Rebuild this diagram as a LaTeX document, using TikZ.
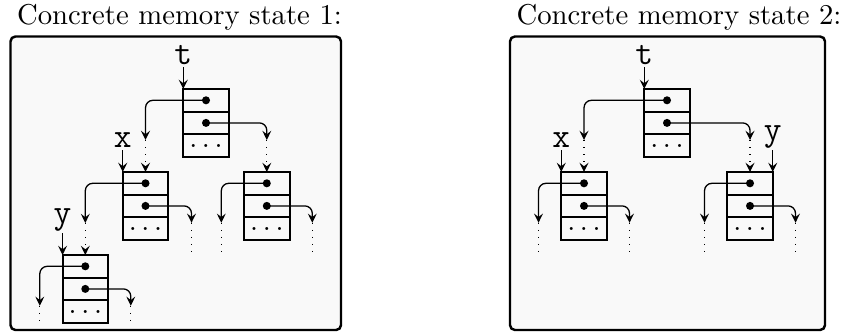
\documentclass[tikz,border=0pt]{standalone}
\usetikzlibrary{arrows.meta,calc}
\newcommand{\membox}[3]{%
  \node[cell] (#1a) at (#2,#3+11.3) {};
  \node[cell] (#1b) at (#2,#3+33.9) {};
  \node[cell] (#1c) at (#2,#3+56.5) {$\ldots$};
  \fill (#1a.center) circle (1.4pt);
  \fill (#1b.center) circle (1.4pt);
}
\begin{document}
\begin{tikzpicture}[x=0.3484pt, y=-0.3484pt,
  frame/.style={draw, line width=0.85pt, rounded corners=1.7pt, fill=black!2.5},
  cell/.style={draw, line width=0.7pt, minimum width=15.85pt, minimum height=7.87pt, inner sep=0pt, outer sep=0pt},
  tip/.style={-{Stealth[length=3.2pt,width=3.1pt,inset=1.2pt]}},
  ptr/.style={line width=0.45pt, tip, rounded corners=2.6pt},
  dotptr/.style={line width=0.45pt, dotted, tip},
  dotfree/.style={line width=0.45pt, dotted},
  lbl/.style={font=\fontsize{12}{14}\selectfont\ttfamily, inner sep=0.5pt, anchor=south},
  title/.style={anchor=base, inner sep=0pt}]
\useasboundingbox (0,0) rectangle (844,334);

% titles
\node[title] (title1) at (179.5,25) {Concrete memory state 1:};
\node[title] (title2) at (679,25) {Concrete memory state 2:};

% frames
\draw[frame] (10.5,36.5) rectangle (341,330);
\draw[frame] (510,36.5) rectangle (825,330);

% ---------------- state 1 ----------------
\membox{A}{206}{89}
\membox{B}{145.5}{172}
\membox{C}{266.8}{172}
\membox{D}{85.3}{255}

\node[lbl] (tA) at ($(Aa.north west)+(0,-22)$) {t};
\draw[ptr] (tA.south) -- (Aa.north west);
\node[lbl] (xB) at ($(Ba.north west)+(0,-22)$) {x};
\draw[ptr] (xB.south) -- (Ba.north west);
\node[lbl] (yD) at ($(Da.north west)+(0,-22)$) {y};
\draw[ptr] (yD.south) -- (Da.north west);

% A pointers
\draw[ptr] (Aa.center) -| ($(Ba.north)+(0,-32)$) coordinate (A1);
\draw[dotptr] (A1) -- (Ba.north);
\draw[ptr] (Ab.center) -| ($(Ca.north)+(0,-32)$) coordinate (A2);
\draw[dotptr] (A2) -- (Ca.north);
% B pointers
\draw[ptr] (Ba.center) -| ($(Da.north)+(0,-32)$) coordinate (B1);
\draw[dotptr] (B1) -- (Da.north);
\draw[ptr] (Bb.center) -| ($(Bc.south)+(46,-17)$) coordinate (B2);
\draw[dotfree] (B2) -- ++(0,29);
% C pointers
\draw[ptr] (Ca.center) -| ($(Cc.south)+(-45.5,-17)$) coordinate (C1);
\draw[dotfree] (C1) -- ++(0,29);
\draw[ptr] (Cb.center) -| ($(Cc.south)+(45.5,-17)$) coordinate (C2);
\draw[dotfree] (C2) -- ++(0,29);
% D pointers
\draw[ptr] (Da.center) -| ($(Dc.south)+(-45.5,-17)$) coordinate (D1);
\draw[dotfree] (D1) -- ++(0,20);
\draw[ptr] (Db.center) -| ($(Dc.south)+(45.5,-17)$) coordinate (D2);
\draw[dotfree] (D2) -- ++(0,20);

% ---------------- state 2 ----------------
\membox{P}{667}{89}
\membox{Q}{584}{172}
\membox{R}{750}{172}

\node[lbl] (tP) at ($(Pa.north west)+(0,-22)$) {t};
\draw[ptr] (tP.south) -- (Pa.north west);
\node[lbl] (xQ) at ($(Qa.north west)+(0,-22)$) {x};
\draw[ptr] (xQ.south) -- (Qa.north west);
\node[lbl] (yR) at ($(Ra.north east)+(0,-22)$) {y};
\draw[ptr] (yR.south) -- (Ra.north east);

\draw[ptr] (Pa.center) -| ($(Qa.north)+(0,-32)$) coordinate (P1);
\draw[dotptr] (P1) -- (Qa.north);
\draw[ptr] (Pb.center) -| ($(Ra.north)+(0,-32)$) coordinate (P2);
\draw[dotptr] (P2) -- (Ra.north);

\draw[ptr] (Qa.center) -| ($(Qc.south)+(-45.5,-17)$) coordinate (Q1);
\draw[dotfree] (Q1) -- ++(0,29);
\draw[ptr] (Qb.center) -| ($(Qc.south)+(45.5,-17)$) coordinate (Q2);
\draw[dotfree] (Q2) -- ++(0,29);
\draw[ptr] (Ra.center) -| ($(Rc.south)+(-45.5,-17)$) coordinate (R1);
\draw[dotfree] (R1) -- ++(0,29);
\draw[ptr] (Rb.center) -| ($(Rc.south)+(45.5,-17)$) coordinate (R2);
\draw[dotfree] (R2) -- ++(0,29);
\end{tikzpicture}
\end{document}
